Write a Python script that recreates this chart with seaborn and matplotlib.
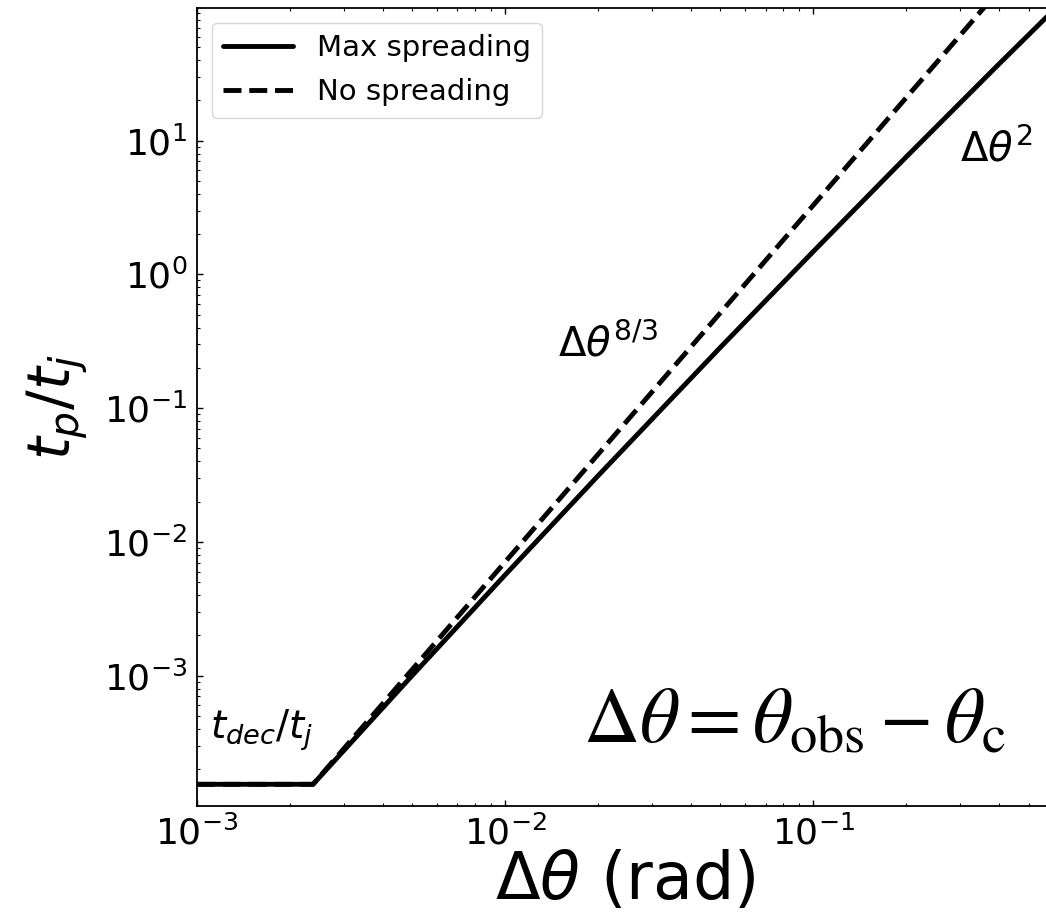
import numpy as np
import pandas as pd
import matplotlib
matplotlib.use("Agg")
import matplotlib.pyplot as plt
import seaborn as sns

# Data (log-log)
max_x = [0.001, 0.00238, 0.005, 0.01, 0.02, 0.05, 0.1, 0.2, 0.4, 0.6]
max_y = [1.54e-4, 1.54e-4, 1.005e-3, 5.66e-3, 3.11e-2, 0.285, 1.48, 7.52, 37.2, 93.5]
no_x = [0.001, 0.00238, 0.6]
no_y = [1.54e-4, 1.54e-4, 390.0]
series_labels = ["Max spreading", "No spreading"]

sns.set_style("ticks", {"text.color": "black", "axes.labelcolor": "black",
                        "xtick.color": "black", "ytick.color": "black",
                        "axes.edgecolor": "black"})
plt.rcParams['font.family'] = ['DejaVu Sans']
plt.rcParams['mathtext.fontset'] = 'dejavusans'

fig = plt.figure(figsize=(10.46, 9.18), dpi=100)
ax = fig.add_axes([197/1046, 112/918, 856/1046, 798/918])

df_max = pd.DataFrame({"x": max_x, "y": max_y})
df_no = pd.DataFrame({"x": no_x, "y": no_y})

sns.lineplot(data=df_no, x="x", y="y", ax=ax, color="black", lw=3.5,
             linestyle="--", estimator=None, sort=False, label=series_labels[1])
sns.lineplot(data=df_max, x="x", y="y", ax=ax, color="black", lw=3.5,
             linestyle="-", estimator=None, sort=False, label=series_labels[0])

ax.set_xscale("log")
ax.set_yscale("log")
ax.set_xlim(1e-3, 0.6)
ax.set_ylim(1.06e-4, 98)

ax.tick_params(which="both", direction="in", top=True, right=True)
ax.tick_params(which="major", length=4.5, width=1.0, labelsize=26, pad=7)
ax.tick_params(which="minor", length=2.5, width=0.8)
for s in ax.spines.values():
    s.set_linewidth(1.3)
    s.set_color("black")

ax.set_xlabel(r"$\Delta\theta$ (rad)", fontsize=47, labelpad=-2)
ax.set_ylabel(r"$t_p/t_j$", fontsize=42, labelpad=10)

handles, labels = ax.get_legend_handles_labels()
order = [labels.index(series_labels[0]), labels.index(series_labels[1])]
ax.legend([handles[i] for i in order], [labels[i] for i in order],
          loc="upper left", fontsize=21, handlelength=2.4, labelspacing=0.55,
          frameon=True)

ax.text(0.30, 7.0, r"$\Delta\theta^2$", fontsize=29)
ax.text(0.0149, 0.243, r"$\Delta\theta^{8/3}$", fontsize=29)
ax.text(0.00110, 3.4e-4, r"$t_{dec}/t_j$", fontsize=28)
ax.text(0.0179, 3.2e-4, r"$\Delta\theta = \theta_{\rm obs} - \theta_{\rm c}$",
        fontsize=56, math_fontfamily='stix')

fig.savefig("out.png", dpi=100)
